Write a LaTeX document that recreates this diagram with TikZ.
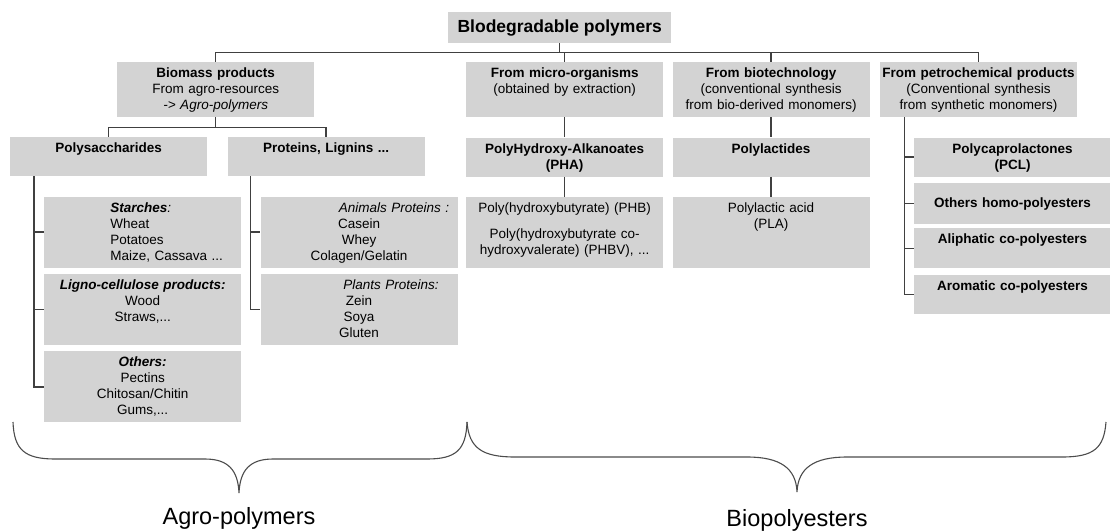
\documentclass[tikz,border=0pt]{standalone}
\usepackage{fontspec}
\setmainfont{Liberation Sans}
\usetikzlibrary{positioning}
\definecolor{boxgray}{RGB}{211,211,211}
\newcommand{\boxfont}{\fontsize{13.5}{16}\selectfont}
\tikzstyle{gbox}=[fill=boxgray, anchor=north west, text width=197pt,
  inner sep=0pt, align=center, text height=15.5pt, font=\boxfont]
\tikzstyle{headbox} = [gbox, text depth=39.5pt]
\tikzstyle{namebox} = [gbox, text depth=23.5pt]
\tikzstyle{listbox} = [gbox, text depth=55.5pt]
\tikzstyle{rootbox} = [fill=boxgray, anchor=north west, minimum width=223pt,
  minimum height=31pt, inner sep=0pt, font=\fontsize{17.5}{20}\selectfont\bfseries]
\tikzstyle{link} = [draw, line width=1.3pt, color=black!75]
\tikzstyle{curly} = [draw, line width=1.1pt, color=black!70]
\tikzstyle{bracelabel} = [inner sep=0pt, font=\fontsize{23.5}{28}\selectfont]
\newcommand{\graybox}[3]{node (#1) [#2] {#3}}

\begin{document}
\begin{tikzpicture}[x=1pt,y=-1pt]
  \useasboundingbox (0,0) rectangle (1110,531);

  % top of the tree
  \path (448,12) node (ROOT) [rootbox] {Blodegradable polymers};

  % first level
  \path (117,62) \graybox{BIO}{headbox}{\textbf{Biomass products}\\From agro-resources\\\textit{-> Agro-polymers}};
  \path (466,62) \graybox{MICRO}{headbox}{\textbf{From micro-organisms}\\(obtained by extraction)};
  \path (MICRO.north east)+(9,0) \graybox{BIOTECH}{headbox}{\textbf{From biotechnology}\\(conventional synthesis\\from bio-derived monomers)};
  \path (BIOTECH.north east)+(10,0) \graybox{PETRO}{headbox}{\textbf{From petrochemical products}\\(Conventional synthesis\\from synthetic monomers)};

  % agro-polymers block
  \path (10,137) \graybox{POLYS}{namebox}{\textbf{Polysaccharides}};
  \path (POLYS.north east)+(20,0) \graybox{PROT}{namebox}{\textbf{Proteins, Lignins ...}};
  \path (POLYS.south west)+(34,20) \graybox{STARCH}{listbox}{\hspace*{48pt}\begin{tabular}[t]{@{}l@{}}\textbf{\textit{Starches}}\textit{:}\\Wheat\\Potatoes\\Maize, Cassava ...\end{tabular}};
  \path (STARCH.south west)+(0,6) \graybox{LIGNO}{listbox}{\textbf{\textit{Ligno-cellulose products:}}\\Wood\\Straws,...};
  \path (LIGNO.south west)+(0,6) \graybox{OTHERS}{listbox}{\textbf{\textit{Others:}}\\Pectins\\Chitosan/Chitin\\Gums,...};
  \path (PROT.south west)+(33,20) \graybox{ANIMAL}{listbox}{\hspace*{70pt}\textit{Animals Proteins :}\\Casein\\Whey\\Colagen/Gelatin};
  \path (ANIMAL.south west)+(0,6) \graybox{PLANT}{listbox}{\hspace*{64pt}\textit{Plants Proteins:}\\Zein\\Soya\\Gluten};

  % biopolyesters block
  \path (MICRO.south west)+(0,20) \graybox{PHA}{namebox}{\textbf{PolyHydroxy-Alkanoates}\\\textbf{(PHA)}};
  \path (PHA.south west)+(0,20) \graybox{PHB}{listbox}{Poly(hydroxybutyrate) (PHB)\\[10pt]Poly(hydroxybutyrate co-\\hydroxyvalerate) (PHBV), ...};
  \path (BIOTECH.south west)+(0,20) \graybox{POLYLAC}{namebox}{\textbf{Polylactides}};
  \path (POLYLAC.south west)+(0,20) \graybox{PLA}{listbox}{Polylactic acid\\(PLA)};
  \path (PETRO.south west)+(34,20) \graybox{PCL}{namebox}{\textbf{Polycaprolactones}\\\textbf{(PCL)}};
  \path (PCL.south west)+(0,6) \graybox{HOMO}{gbox, text height=24pt, text depth=17pt}{\textbf{Others homo-polyesters}};
  \path (HOMO.south west)+(0,4) \graybox{ALIPH}{gbox, text depth=24.5pt}{\textbf{Aliphatic co-polyesters}};
  \path (ALIPH.south west)+(0,6) \graybox{AROM}{namebox}{\textbf{Aromatic co-polyesters}};

  % Draw lines between elements
  \foreach \kid in {BIO,MICRO,BIOTECH,PETRO}
    \path [link] (ROOT.south) -- ++(0,9) -| (\kid.north);
  \foreach \kid in {POLYS,PROT}
    \path [link] (BIO.south) -- ++(0,10) -| (\kid.north);
  \path [link] (MICRO.south) -- (PHA.north);
  \path [link] (PHA.south) -- (PHB.north);
  \path [link] (BIOTECH.south) -- (POLYLAC.north);
  \path [link] (POLYLAC.south) -- (PLA.north);
  \foreach \kid in {STARCH,LIGNO,OTHERS}
    \path [link] ([xshift=24pt]POLYS.south west) |- (\kid.west);
  \foreach \kid in {ANIMAL,PLANT}
    \path [link] ([xshift=23pt]PROT.south west) |- (\kid.west);
  \foreach \kid in {PCL,HOMO,ALIPH,AROM}
    \path [link] ([xshift=25pt]PETRO.south west) |- (\kid.west);

  % braces
  \coordinate (agrotip) at (239,493);
  \coordinate (biotip) at (797,492);
  \path [curly] (13,422) .. controls (14,450) and (25,459) .. (55,459) -- (205,459)
    .. controls (228,459) and (238,470) .. (agrotip)
    .. controls (240,470) and (250,459) .. (273,459) -- (427,459)
    .. controls (456,459) and (466,450) .. (467,422);
  \path [curly] (467,422) .. controls (469,448) and (482,457) .. (515,457) -- (747,457)
    .. controls (780,457) and (796,468) .. (biotip)
    .. controls (798,468) and (814,457) .. (847,457) -- (1062,457)
    .. controls (1094,457) and (1104,448) .. (1106,422);
  \node (AGRO) [bracelabel, below=14pt of agrotip] {Agro-polymers};
  \node (BIOPOLY) [bracelabel, below=17pt of biotip] {Biopolyesters};

\end{tikzpicture}
\end{document}
